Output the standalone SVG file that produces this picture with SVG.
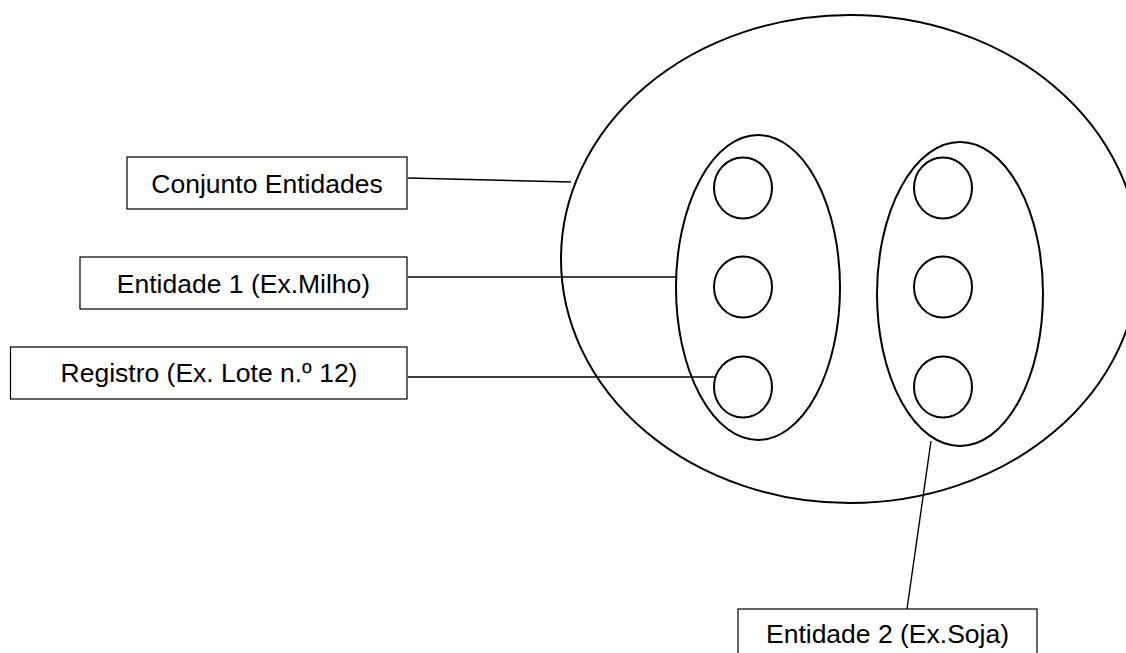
<svg xmlns="http://www.w3.org/2000/svg" width="1126" height="653" viewBox="0 0 1126 653">
<style>
.shape{fill:none;stroke:#000;stroke-width:2}
.box{fill:#fff;stroke:#000;stroke-width:1.2}
.lbl{font-family:"Liberation Sans",Arial,sans-serif;font-size:26.5px;fill:#000;text-anchor:middle}
.conn{stroke:#000;stroke-width:1.4;fill:none}
</style>
<rect width="1126" height="653" fill="#fff"/>
<g id="conjunto-ellipse"><ellipse class="shape" cx="850" cy="259" rx="289" ry="244"/></g>
<g id="entidade1-ellipse"><ellipse class="shape" cx="758" cy="287.5" rx="82" ry="152.5"/></g>
<g id="entidade2-ellipse"><ellipse class="shape" cx="960" cy="294" rx="83" ry="152"/></g>
<g id="registros">
<ellipse class="shape" cx="743" cy="188" rx="29" ry="30.5"/>
<ellipse class="shape" cx="743" cy="287" rx="29" ry="30.5"/>
<ellipse class="shape" cx="743" cy="387" rx="29" ry="30.5"/>
<ellipse class="shape" cx="943" cy="188" rx="29" ry="30.5"/>
<ellipse class="shape" cx="943" cy="287" rx="29" ry="30.5"/>
<ellipse class="shape" cx="943" cy="387" rx="29" ry="30.5"/>
</g>
<g id="connectors">
<line class="conn" x1="408" y1="178" x2="571" y2="182"/>
<line class="conn" x1="408" y1="277" x2="676" y2="277"/>
<line class="conn" x1="408" y1="377" x2="715" y2="377"/>
<line class="conn" x1="931" y1="441" x2="907" y2="609"/>
</g>
<g id="label-conjunto"><rect class="box" x="127" y="157" width="280" height="52"/><text class="lbl" x="267" y="193">Conjunto Entidades</text></g>
<g id="label-entidade1"><rect class="box" x="80" y="257" width="327" height="52"/><text class="lbl" x="243.5" y="293">Entidade 1 (Ex.Milho)</text></g>
<g id="label-registro"><rect class="box" x="10.5" y="347" width="396.5" height="52"/><text class="lbl" x="209" y="382">Registro (Ex. Lote n.º 12)</text></g>
<g id="label-entidade2"><rect class="box" x="738" y="609" width="299" height="52"/><text class="lbl" x="887.5" y="643">Entidade 2 (Ex.Soja)</text></g>
</svg>
